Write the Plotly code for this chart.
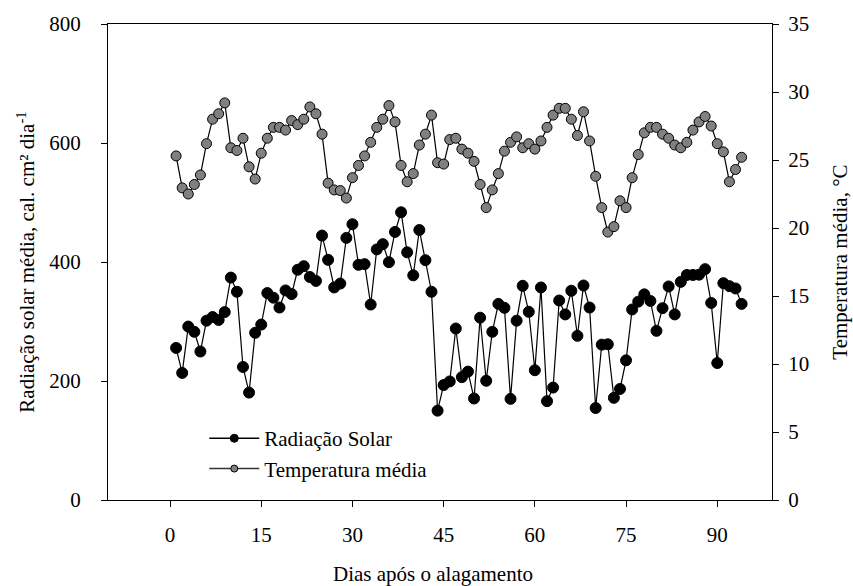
import plotly.graph_objects as go

days = list(range(1, 95))

radiacao = [
    255.6, 213.6, 291.5, 282.7, 249.6, 301.4, 307.5, 302.6, 315.8, 373.8,
    350.0, 223.6, 180.5, 281.0, 294.8, 347.8, 340.0, 323.5, 352.2, 346.1,
    387.0, 393.0, 374.8, 368.2, 444.4, 403.6, 357.2, 363.8, 440.5, 463.5,
    395.3, 396.4, 328.5, 421.2, 430.0, 399.7, 450.5, 483.6, 416.3, 377.6,
    453.8, 403.0, 350.0, 150.2, 193.2, 199.3, 288.2, 206.5, 215.8, 170.6,
    306.4, 200.4, 282.7, 329.6, 323.0, 170.0, 301.4, 360.0, 316.3, 218.1,
    357.2, 166.1, 189.0, 335.3, 311.9, 351.7, 276.0, 360.5, 323.5, 154.6,
    261.1, 261.7, 171.7, 186.6, 234.7, 320.2, 333.4, 345.6, 334.5, 284.3,
    322.4, 358.9, 311.9, 366.6, 378.2, 378.2, 378.7, 388.0, 331.2, 230.2,
    364.4, 359.4, 355.5, 329.6,
]

temperatura = [
    25.3, 22.95, 22.5, 23.2, 23.9, 26.2, 28.0, 28.4, 29.2, 25.9,
    25.7, 26.6, 24.5, 23.6, 25.5, 26.6, 27.4, 27.4, 27.2, 27.9,
    27.6, 28.0, 28.9, 28.4, 26.9, 23.3, 22.8, 22.75, 22.2, 23.7,
    24.6, 25.3, 26.3, 27.4, 28.0, 29.0, 27.8, 24.6, 23.4, 24.0,
    26.1, 26.9, 28.3, 24.8, 24.7, 26.5, 26.6, 25.8, 25.5, 24.9,
    23.2, 21.5, 22.8, 24.0, 25.65, 26.3, 26.7, 25.9, 26.2, 25.8,
    26.4, 27.4, 28.3, 28.8, 28.8, 28.0, 26.8, 28.55, 26.4, 23.8,
    21.5, 19.7, 20.1, 22.0, 21.5, 23.7, 25.4, 27.0, 27.4, 27.4,
    26.9, 26.6, 26.1, 25.9, 26.3, 27.2, 27.8, 28.2, 27.5, 26.2,
    25.6, 23.4, 24.3, 25.2,
]

x_ticks = [0, 15, 30, 45, 60, 75, 90]
y1_ticks = [0, 200, 400, 600, 800]
y2_ticks = [0, 5, 10, 15, 20, 25, 30, 35]

FONT = "Liberation Serif"
FS = 21

fig = go.Figure()
fig.add_trace(go.Scatter(
    x=days, y=radiacao, name="Radiação Solar", mode="lines+markers",
    line=dict(color="black", width=1.2),
    marker=dict(color="black", size=11, line=dict(color="black", width=1)),
    yaxis="y", showlegend=False,
))
fig.add_trace(go.Scatter(
    x=days, y=temperatura, name="Temperatura média", mode="lines+markers",
    line=dict(color="black", width=1.2),
    marker=dict(color="#808080", size=10, line=dict(color="black", width=1)),
    yaxis="y2", showlegend=False,
))
# legend entries (smaller symbols, as in the reference legend)
fig.add_trace(go.Scatter(
    x=[None], y=[None], name="Radiação Solar", mode="lines+markers",
    line=dict(color="black", width=1.5),
    marker=dict(color="black", size=8, line=dict(color="black", width=1)),
))
fig.add_trace(go.Scatter(
    x=[None], y=[None], name="Temperatura média", mode="lines+markers",
    line=dict(color="#333333", width=1.5),
    marker=dict(color="#808080", size=7, line=dict(color="black", width=1)),
))

axis_common = dict(
    showgrid=False, zeroline=False, showline=True, linecolor="black", linewidth=1.3,
    ticks="outside", ticklen=6, tickwidth=1.3, tickcolor="black",
    tickfont=dict(family=FONT, size=FS, color="black"),
)

fig.update_layout(
    width=853, height=586,
    margin=dict(l=108, r=81, t=18, b=86),
    paper_bgcolor="white", plot_bgcolor="white",
    font=dict(family=FONT, size=FS, color="black"),
    showlegend=True,
    legend=dict(
        x=0.145, y=0.172, xanchor="left", yanchor="top",
        bgcolor="rgba(0,0,0,0)", font=dict(family=FONT, size=FS, color="black"),
        itemsizing="trace", itemwidth=50, tracegroupgap=0,
    ),
    xaxis=dict(
        range=[-10.2, 99], tickvals=x_ticks, mirror=True,
        ticklabelstandoff=10, **axis_common,
    ),
    yaxis=dict(
        range=[0, 800], tickvals=y1_ticks, ticklabelstandoff=16, **axis_common,
    ),
    yaxis2=dict(
        range=[0, 35], tickvals=y2_ticks, overlaying="y", side="right",
        ticklabelstandoff=5, **axis_common,
    ),
    annotations=[
        dict(text="Dias após o alagamento", xref="paper", yref="paper",
             x=0.49, y=-0.156, showarrow=False, xanchor="center", yanchor="middle",
             font=dict(family=FONT, size=FS)),
        dict(text="Radiação solar média, cal. cm² dia<sup>-1</sup>", xref="paper", yref="paper",
             x=-0.124, y=0.5, showarrow=False, textangle=-90, xanchor="center", yanchor="middle",
             font=dict(family=FONT, size=FS)),
        dict(text="Temperatura média, °C", xref="paper", yref="paper",
             x=1.102, y=0.5, showarrow=False, textangle=-90, xanchor="center", yanchor="middle",
             font=dict(family=FONT, size=FS)),
    ],
)

fig.write_html("out.html")
